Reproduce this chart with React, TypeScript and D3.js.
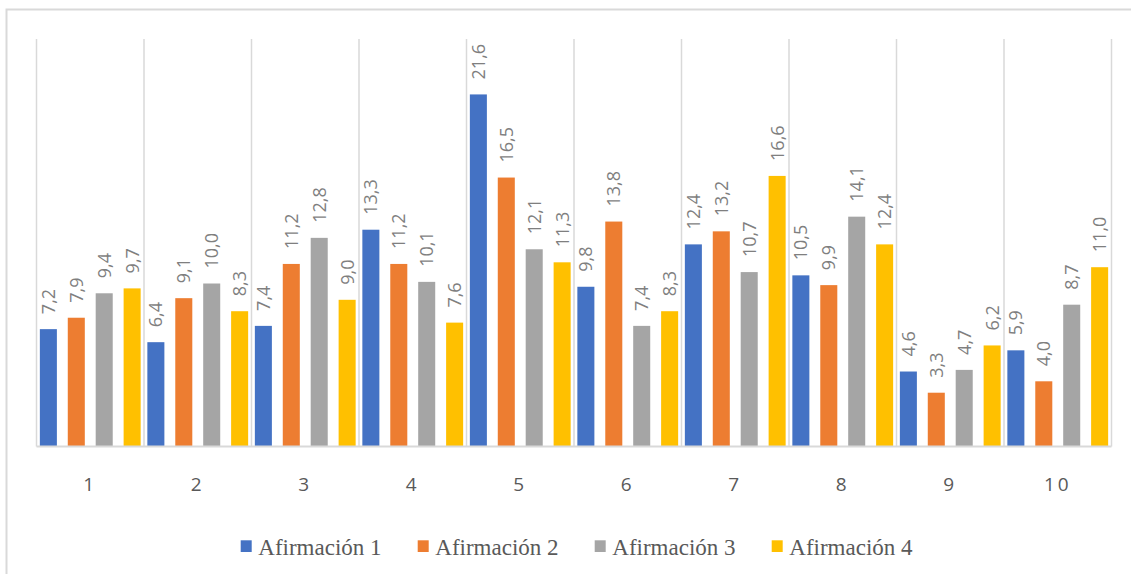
import React from "react";
import * as d3 from "d3";

const categories = ["1", "2", "3", "4", "5", "6", "7", "8", "9", "10"];
const seriesNames = ["Afirmación 1", "Afirmación 2", "Afirmación 3", "Afirmación 4"];
const afirmacion1 = [7.2, 6.4, 7.4, 13.3, 21.6, 9.8, 12.4, 10.5, 4.6, 5.9];
const afirmacion2 = [7.9, 9.1, 11.2, 11.2, 16.5, 13.8, 13.2, 9.9, 3.3, 4.0];
const afirmacion3 = [9.4, 10.0, 12.8, 10.1, 12.1, 7.4, 10.7, 14.1, 4.7, 8.7];
const afirmacion4 = [9.7, 8.3, 9.0, 7.6, 11.3, 8.3, 16.6, 12.4, 6.2, 11.0];
const seriesColors = ["#4472C4", "#ED7D31", "#A5A5A5", "#FFC000"];
const yMax = 25;

const seriesValues = [afirmacion1, afirmacion2, afirmacion3, afirmacion4];

const W = 1131;
const H = 574;
const plot = { left: 36.5, right: 1111.5, top: 39, bottom: 446.5 };

const fmt = (v: number) => v.toFixed(1).replace(".", ",");

export default function App() {
  const x0 = d3
    .scaleBand<string>()
    .domain(categories)
    .range([plot.left, plot.right])
    .padding(0);
  const x1 = d3
    .scaleBand<string>()
    .domain(seriesNames)
    .range([0, x0.bandwidth()])
    .paddingInner(0.39)
    .paddingOuter(0.12);
  const y = d3.scaleLinear().domain([0, yMax]).range([plot.bottom, plot.top]);

  const boundaries = categories.map((c) => x0(c) as number).concat([plot.right]);

  const legendStart = 240.7;
  const legendStep = 177;

  return (
    <svg
      width={W}
      height={H}
      style={{ position: "absolute", left: 0, top: 0, background: "#fff" }}
    >
      <rect x={0} y={0} width={W} height={H} fill="#fff" />
      {/* chart frame */}
      <rect
        x={6.5}
        y={9.5}
        width={W + 20}
        height={H + 20}
        fill="none"
        stroke="#d9d9d9"
        strokeWidth={2}
      />
      {/* vertical category gridlines */}
      {boundaries.map((bx, i) => (
        <line
          key={"g" + i}
          x1={bx}
          x2={bx}
          y1={plot.top}
          y2={plot.bottom}
          stroke="#d9d9d9"
          strokeWidth={1.5}
        />
      ))}
      {/* bars */}
      {categories.map((c, ci) => (
        <g key={"c" + c} transform={`translate(${x0(c)},0)`}>
          {seriesNames.map((s, si) => {
            const v = seriesValues[si][ci];
            const bx = x1(s) as number;
            return (
              <rect
                key={s}
                x={bx}
                y={y(v)}
                width={x1.bandwidth()}
                height={y(0) - y(v)}
                fill={seriesColors[si]}
              />
            );
          })}
        </g>
      ))}
      {/* value labels */}
      {categories.map((c, ci) =>
        seriesNames.map((s, si) => {
          const v = seriesValues[si][ci];
          const cx = (x0(c) as number) + (x1(s) as number) + x1.bandwidth() / 2;
          const ty = y(v) - 15;
          return (
            <text
              key={"l" + c + s}
              transform={`translate(${cx},${ty}) rotate(-90)`}
              dy="0.36em"
              textAnchor="start"
              fontFamily="'Open Sans', sans-serif"
              fontSize={18}
              fill="#7f7f7f"
            >
              {fmt(v)}
            </text>
          );
        })
      )}
      {/* baseline axis */}
      <line
        x1={plot.left}
        x2={plot.right}
        y1={plot.bottom}
        y2={plot.bottom}
        stroke="#d9d9d9"
        strokeWidth={2}
      />
      {/* category labels */}
      {categories.map((c) => (
        <text
          key={"t" + c}
          x={(x0(c) as number) + x0.bandwidth() / 2}
          y={491}
          textAnchor="middle"
          fontFamily="'Open Sans', sans-serif"
          fontSize={19}
          letterSpacing={3}
          fill="#595959"
        >
          {c}
        </text>
      ))}
      {/* legend */}
      {seriesNames.map((s, si) => {
        const lx = legendStart + si * legendStep;
        return (
          <g key={"lg" + s}>
            <rect x={lx} y={540.3} width={11} height={11.7} fill={seriesColors[si]} />
            <text
              x={lx + 17.6}
              y={554.7}
              style={{ fontFamily: '"Times New Roman", "Liberation Serif", "DejaVu Serif", serif' }}
              fontSize={23}
              fill="#595959"
            >
              {s}
            </text>
          </g>
        );
      })}
    </svg>
  );
}
